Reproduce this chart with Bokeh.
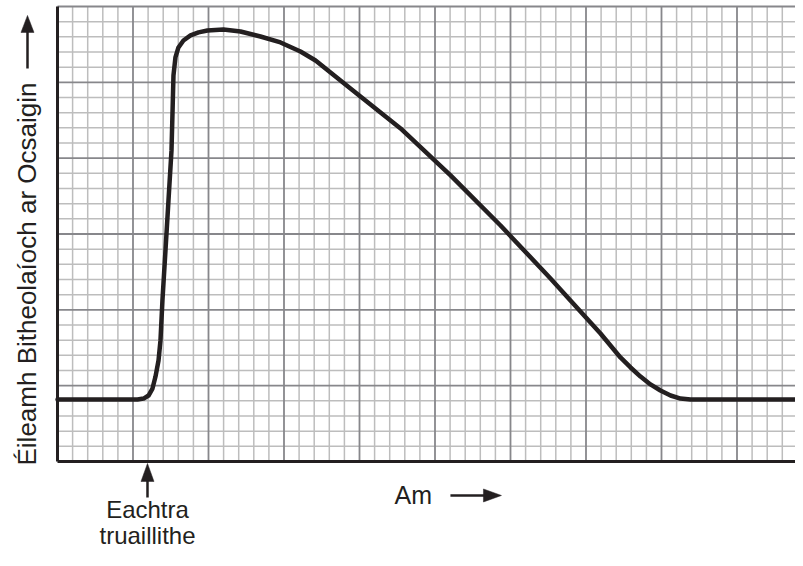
import math
from bokeh.plotting import figure
from bokeh.core.properties import value
from bokeh.embed import file_html
from bokeh.resources import INLINE

# Curve (x: time in minor grid squares, y: BOD in minor grid squares)
time_vals = [0.0, 5.30, 5.70, 6.03, 6.29, 6.49, 6.69, 6.82, 6.95, 7.15, 7.35, 7.55, 7.62,
             7.68, 7.81, 8.01, 8.34, 8.81, 9.34, 9.93, 10.99, 12.12, 13.44, 14.77, 16.09,
             17.09, 19.40, 22.72, 26.03, 29.34, 32.65, 33.97, 35.96, 37.28, 37.95, 38.61,
             39.27, 39.93, 40.60, 41.26, 41.92, 49.40]
bod_vals = [4.09, 4.09, 4.15, 4.35, 4.81, 5.60, 6.66, 7.98, 10.62, 13.91, 17.21, 20.51, 23.14,
            25.45, 26.64, 27.30, 27.76, 28.09, 28.29, 28.42, 28.48, 28.35, 28.02, 27.63, 27.03,
            26.44, 24.59, 21.96, 18.86, 15.56, 12.07, 10.62, 8.44, 6.86, 6.20, 5.60,
            5.08, 4.68, 4.35, 4.15, 4.09, 4.09]

y_label = "Éileamh Bitheolaíoch ar Ocsaigin"
x_label = "Am"
event_lines = ["Eachtra", "truaillithe"]
event_time = 5.96

# graph-paper geometry (in minor squares)
X_SQUARES = 49
Y_SQUARES = 30
MAJOR_EVERY = 5

FONT = "Liberation Sans"
INK = "#231f20"
MINOR = "#bdbdbd"
MAJOR = "#87878b"

W, H = 795, 550
PX_X = 15.1      # pixels per square, x
PX_Y = 15.167    # pixels per square, y
LEFT, BOTTOM = 57, 461
x0 = -LEFT / PX_X
x1 = (W - LEFT) / PX_X
y0 = -(H - BOTTOM) / PX_Y
y1 = BOTTOM / PX_Y

p = figure(width=W, height=H, output_backend="svg", toolbar_location=None,
           x_axis_type=None, y_axis_type=None,
           x_range=(x0, x1), y_range=(y0, y1),
           min_border=0, min_border_left=0, min_border_right=0,
           min_border_top=0, min_border_bottom=0)
p.outline_line_color = None
p.background_fill_color = "white"
p.border_fill_color = "white"

xmax = min(x1, X_SQUARES + 0.5)
minor_x = [i for i in range(1, X_SQUARES + 1) if i % MAJOR_EVERY != 0 and i <= xmax]
major_x = [i for i in range(MAJOR_EVERY, X_SQUARES + 1, MAJOR_EVERY) if i <= xmax]
minor_y = [j for j in range(1, Y_SQUARES + 1) if j % MAJOR_EVERY != 0]
major_y = [j for j in range(MAJOR_EVERY, Y_SQUARES + 1, MAJOR_EVERY)]

p.segment(x0=minor_x, y0=[0] * len(minor_x), x1=minor_x, y1=[Y_SQUARES] * len(minor_x),
          line_color=MINOR, line_width=1.5)
p.segment(x0=[0] * len(minor_y), y0=minor_y, x1=[xmax] * len(minor_y), y1=minor_y,
          line_color=MINOR, line_width=1.5)
p.segment(x0=major_x, y0=[0] * len(major_x), x1=major_x, y1=[Y_SQUARES] * len(major_x),
          line_color=MAJOR, line_width=1.8)
p.segment(x0=[0] * len(major_y), y0=major_y, x1=[xmax] * len(major_y), y1=major_y,
          line_color=MAJOR, line_width=1.8)
# axes
p.segment(x0=[0, 0], y0=[0, 0], x1=[0, xmax], y1=[Y_SQUARES, 0], line_color=INK, line_width=3)

p.line(time_vals, bod_vals, line_color=INK, line_width=4.5, line_join="round", line_cap="round")


def arrow(xt, yt, direction, shaft_px, head_len=17, head_w=13):
    """xt, yt: tip in data units; direction 'up' or 'right'."""
    if direction == "up":
        hl = head_len / PX_Y
        hw = head_w / 2 / PX_X
        p.segment(x0=[xt], y0=[yt - shaft_px / PX_Y], x1=[xt], y1=[yt - hl + 0.05],
                  line_color=INK, line_width=2.5)
        p.patches(xs=[[xt - hw, xt + hw, xt]], ys=[[yt - hl, yt - hl, yt]],
                  fill_color=INK, line_color=INK, line_width=0.5)
    else:
        hl = head_len / PX_X
        hw = head_w / 2 / PX_Y
        p.segment(x0=[xt - shaft_px / PX_X], y0=[yt], x1=[xt - hl + 0.05], y1=[yt],
                  line_color=INK, line_width=2.5)
        p.patches(xs=[[xt - hl, xt - hl, xt]], ys=[[yt - hw, yt + hw, yt]],
                  fill_color=INK, line_color=INK, line_width=0.5)


# y-axis title and arrow
p.text(x=[-1.987], y=[-0.264], text=[y_label], angle=math.pi / 2,
       text_font=value(FONT), text_font_size=value("26px"), text_color=INK,
       text_align="left", text_baseline="alphabetic")
arrow(-1.987, 29.41, "up", 53, head_len=17, head_w=13)

# x-axis title and arrow
p.text(x=[22.32], y=[-2.18], text=[x_label],
       text_font=value(FONT), text_font_size=value("25px"), text_color=INK,
       text_align="left", text_baseline="alphabetic")
arrow(29.40, -2.24, "right", 51, head_len=18, head_w=13)

# pollution event marker
arrow(event_time, -0.13, "up", 34, head_len=18, head_w=13)
p.text(x=[event_time], y=[-3.17], text=[event_lines[0]],
       text_font=value(FONT), text_font_size=value("24px"), text_color=INK,
       text_align="center", text_baseline="alphabetic")
p.text(x=[event_time], y=[-4.88], text=[event_lines[1]],
       text_font=value(FONT), text_font_size=value("24px"), text_color=INK,
       text_align="center", text_baseline="alphabetic")

open("out.html", "w").write(file_html(p, INLINE))
